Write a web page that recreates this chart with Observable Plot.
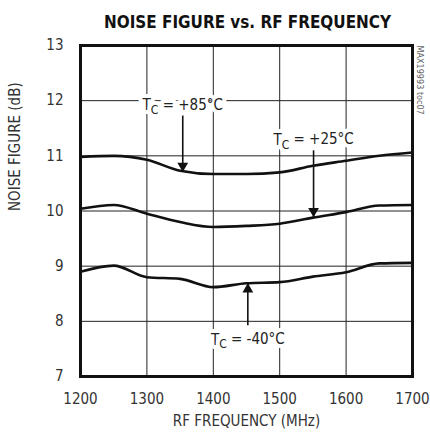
<!DOCTYPE html>
<html>
<head>
<meta charset="utf-8">
<script src="https://cdn.jsdelivr.net/npm/d3@7"></script>
<script src="https://cdn.jsdelivr.net/npm/@observablehq/plot@0.6"></script>
<style>
  html, body { margin: 0; padding: 0; background: #fff; }
  #chart svg { display: block; }
  #chart svg text { font-stretch: condensed; }
</style>
</head>
<body>
<div id="chart"></div>
<script>
const titleText = "NOISE FIGURE vs. RF FREQUENCY";
const xLabel = "RF FREQUENCY (MHz)";
const yLabel = "NOISE FIGURE (dB)";
const partLabel = "MAX19993 toc07";

const freq = [1200, 1250, 1300, 1350, 1400, 1450, 1500, 1550, 1600, 1650, 1700];
const nf85 = [10.98, 11.00, 10.93, 10.73, 10.67, 10.67, 10.70, 10.82, 10.91, 11.00, 11.06];
const nf25 = [10.04, 10.11, 9.95, 9.80, 9.71, 9.73, 9.77, 9.88, 9.98, 10.10, 10.11];
const nfm40 = [8.90, 9.01, 8.80, 8.77, 8.62, 8.69, 8.71, 8.81, 8.89, 9.05, 9.06];

const xTicks = [1200, 1300, 1400, 1500, 1600, 1700];
const yTicks = [7, 8, 9, 10, 11, 12, 13];

const annLabels = ["TC = +85°C", "TC = +25°C", "TC = -40°C"];
const annX = [1354, 1551, 1452];
const annY = [11.91, 11.28, 7.66];
const arrowFromY = [11.73, 11.10, 7.93];
const arrowToY = [10.71, 9.89, 8.69];

const series = [
  {name: "+85", values: nf85},
  {name: "+25", values: nf25},
  {name: "-40", values: nfm40}
];
const lineData = series.flatMap(s => freq.map((f, i) => ({f, v: s.values[i], s: s.name})));
const ann = annLabels.map((t, i) => ({t, x: annX[i], y: annY[i], y1: arrowFromY[i], y2: arrowToY[i], down: arrowToY[i] < arrowFromY[i]}));

const font = "'DejaVu Sans Condensed', 'DejaVu Sans', sans-serif";

const chart = Plot.plot({
  width: 430,
  height: 436,
  marginLeft: 80,
  marginRight: 18,
  marginTop: 45,
  marginBottom: 60,
  style: {fontFamily: font, fontSize: "15px", color: "#222", background: "#fff"},
  x: {domain: [1200, 1700]},
  y: {domain: [7, 13]},
  marks: [
    Plot.gridX(xTicks, {stroke: "#222", strokeOpacity: 1, strokeWidth: 1}),
    Plot.gridY(yTicks, {stroke: "#222", strokeOpacity: 1, strokeWidth: 1}),
    Plot.axisX(xTicks, {tickSize: 0, tickPadding: 17, tickFormat: d => String(d), label: null, fontSize: 15, fill: "#333"}),
    Plot.axisY(yTicks, {tickSize: 0, tickPadding: 17, tickFormat: d => String(d), label: null, fontSize: 15, fill: "#333"}),
    Plot.line(lineData, {x: "f", y: "v", z: "s", stroke: "#111", strokeWidth: 2.6, curve: "monotone-x"}),
    Plot.link(ann, {x1: "x", x2: "x", y1: "y1", y2: "y2", stroke: "#111", strokeWidth: 1.6}),
    Plot.dot(ann.filter(d => d.down), {x: "x", y: "y2", symbol: "triangle", r: 4, fill: "#111", stroke: "none", rotate: 180, dy: -6}),
    Plot.dot(ann.filter(d => !d.down), {x: "x", y: "y2", symbol: "triangle", r: 4, fill: "#111", stroke: "none", dy: 6}),
    Plot.text(ann, {x: "x", y: "y", text: "t", fontSize: 15, fill: "#222", stroke: "white", strokeWidth: 8, className: "ann"}),
    Plot.frame({stroke: "#111", strokeWidth: 3}),
    Plot.text([partLabel], {frameAnchor: "top-right", dx: 11, rotate: 90, textAnchor: "start", fontSize: 9, fill: "#666"}),
    Plot.text([xLabel], {frameAnchor: "bottom", dy: 49, fontSize: 15, fill: "#333"}),
    Plot.text([yLabel], {frameAnchor: "left", dx: -65, rotate: -90, fontSize: 15, fill: "#333"}),
    Plot.text([titleText], {frameAnchor: "top", dy: -30, dx: 1, fontSize: 18, fontWeight: "bold", fill: "#111", className: "title"})
  ]
});

// subscript C in "TC"
d3.select(chart).selectAll("g.ann text").each(function() {
  const t = this.textContent;
  const rest = t.slice(2);
  const sel = d3.select(this);
  sel.text(null);
  sel.append("tspan").text("T");
  sel.append("tspan").attr("dy", "0.3em").attr("font-size", "12px").text("C");
  sel.append("tspan").attr("dy", "-0.3em").text(rest);
});
d3.select(chart).selectAll("g.title text").attr("textLength", 287).attr("lengthAdjust", "spacingAndGlyphs");

document.getElementById("chart").appendChild(chart);
</script>
</body>
</html>
